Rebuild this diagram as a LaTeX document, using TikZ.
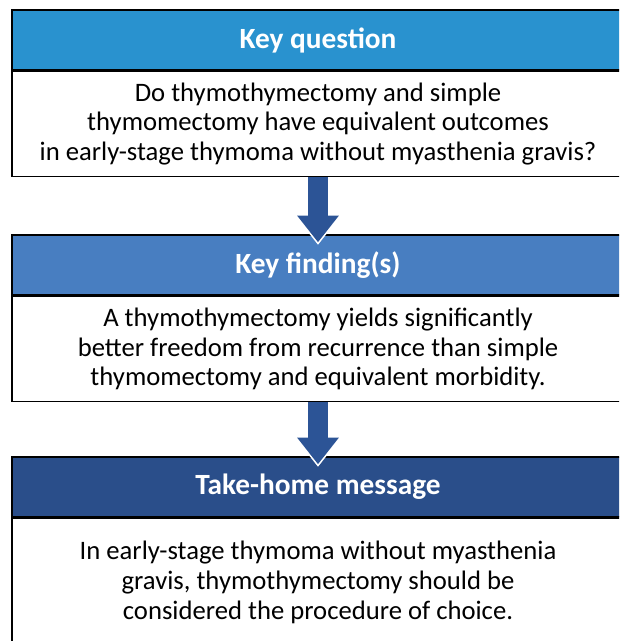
\documentclass[tikz,border=0pt]{standalone}
\usepackage{fontspec}
\setmainfont{Carlito}
\usepackage{tikz}
\usetikzlibrary{arrows.meta, positioning}

\definecolor{qblue}{RGB}{41,146,207}
\definecolor{fblue}{RGB}{72,126,193}
\definecolor{mblue}{RGB}{42,78,138}
\definecolor{arrowblue}{RGB}{44,84,150}

\tikzset{
    headbox/.style={draw=black, line width=1.1pt, text=white, minimum width=459pt,
        minimum height=45pt, inner sep=0pt, font=\fontsize{22}{24}\selectfont\bfseries},
    bodybox/.style={draw=black, line width=1.1pt, fill=white, minimum width=459pt,
        inner sep=0pt, align=center, font=\fontsize{20}{22.2}\selectfont},
    flowarrow/.style={arrowblue, line width=15pt, shorten >=-6pt,
        -{Triangle[width=30pt,length=20pt]}},
    arrowrim/.style={white, line width=15pt, shorten >=-8pt,
        -{Triangle[width=33pt,length=22pt]}}
}

\begin{document}
\begin{tikzpicture}[x=0.75pt, y=-0.75pt]
    \useasboundingbox (0,0) rectangle (619,641);
    \clip (0,0) rectangle (619,641);

    % Key question
    \node[headbox, fill=qblue] (qhead) at (318,40) {Key question};
    \node[bodybox, minimum height=78.75pt, below=0pt of qhead] (qbody)
        {Do thymothymectomy and simple\\
         thymomectomy have equivalent outcomes\\
         in early-stage thymoma without myasthenia gravis?};

    % Key finding(s)
    \node[headbox, fill=fblue] (fhead) at (318,265) {Key finding(s)};
    \node[bodybox, minimum height=78.75pt, below=0pt of fhead] (fbody)
        {A thymothymectomy yields significantly\\
         better freedom from recurrence than simple\\
         thymomectomy and equivalent morbidity.};

    % Take-home message
    \node[headbox, fill=mblue] (mhead) at (318,487) {Take-home message};
    \node[bodybox, minimum height=96pt, below=0pt of mhead] (mbody)
        {In early-stage thymoma without myasthenia\\
         gravis, thymothymectomy should be\\
         considered the procedure of choice.};

    % arrows (white rim under the tip)
    \draw[arrowrim] (qbody.south) -- (fhead.north);
    \draw[flowarrow] (qbody.south) -- (fhead.north);
    \draw[arrowrim] (fbody.south) -- (mhead.north);
    \draw[flowarrow] (fbody.south) -- (mhead.north);
\end{tikzpicture}
\end{document}
